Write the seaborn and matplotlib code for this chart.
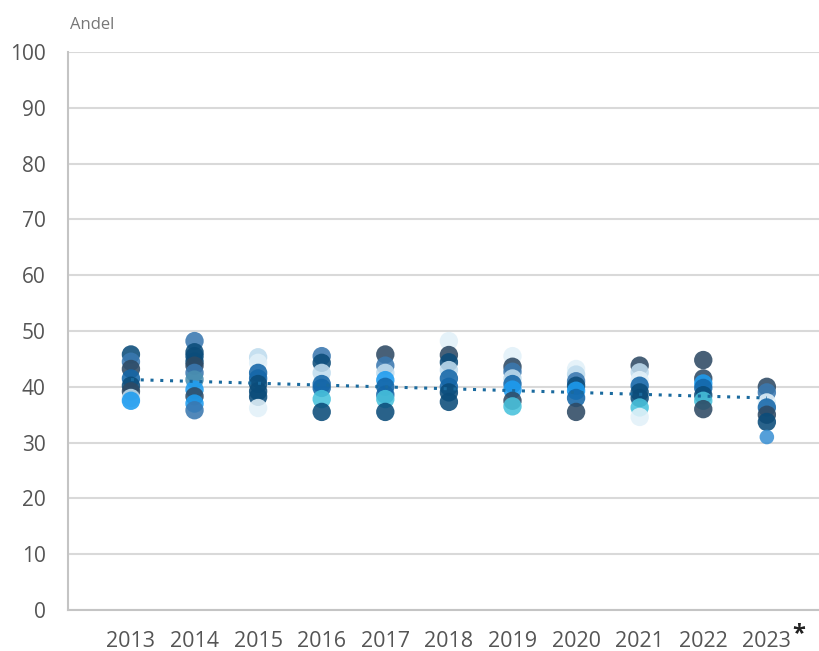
import pandas as pd
import matplotlib.pyplot as plt
import seaborn as sns

years = [2013, 2014, 2015, 2016, 2017, 2018, 2019, 2020, 2021, 2022, 2023]
year_labels = ["2013", "2014", "2015", "2016", "2017", "2018", "2019", "2020", "2021", "2022", "2023"]

values = {
    2013: [45.8, 44.5, 43.2, 41.5, 40.2, 39.2, 38.0, 37.5],
    2014: [48.2, 46.2, 45.5, 44.5, 43.8, 42.5, 41.3, 39.5, 38.3, 37.0, 35.8],
    2015: [45.3, 44.3, 42.5, 41.5, 40.5, 39.2, 38.2, 36.2],
    2016: [45.5, 44.3, 42.5, 40.5, 39.8, 37.8, 35.5],
    2017: [45.8, 43.8, 42.5, 41.2, 40.0, 38.6, 37.8, 35.5],
    2018: [48.2, 45.7, 44.4, 43.0, 41.5, 40.0, 39.0, 37.3],
    2019: [45.5, 43.6, 42.7, 41.5, 40.5, 39.5, 37.5, 36.5],
    2020: [43.2, 42.2, 41.0, 40.2, 39.3, 38.0, 35.5],
    2021: [43.8, 42.6, 41.2, 40.2, 39.0, 38.0, 36.3, 34.6],
    2022: [44.8, 41.5, 40.6, 39.8, 38.5, 37.5, 36.0],
    2023: [40.0, 39.0, 37.2, 36.3, 35.0, 33.7, 31.0],
}
shades = {
    2013: ["navy", "steel", "slate", "blue", "navy", "slate", "pale", "bright"],
    2014: ["steel", "navy", "navy", "navy", "slate", "steel", "teal", "bright", "slate", "bright", "steel"],
    2015: ["pale", "ice", "blue", "blue", "navy", "navy", "navy", "ice"],
    2016: ["steel", "navy", "pale", "blue", "blue", "cyan", "navy"],
    2017: ["slate", "steel", "pale", "bright", "blue", "blue", "cyan", "navy"],
    2018: ["ice", "slate", "navy", "pale", "blue", "blue", "navy", "navy"],
    2019: ["ice", "slate", "steel", "pale", "blue", "bright", "slate", "cyan"],
    2020: ["ice", "pale", "steel", "navy", "bright", "blue", "slate"],
    2021: ["slate", "pale", "ice", "blue", "navy", "navy", "cyan", "ice"],
    2022: ["slate", "slate", "bright", "blue", "navy", "cyan", "slate"],
    2023: ["slate", "steel", "ice", "blue", "slate", "navy", "mid"],
}
dot_size = {2023: ["big", "big", "big", "big", "big", "big", "small"]}

trend_years = [2013, 2023]
trend_values = [41.3, 38.0]

palette = {
    "slate": "#2e4a64", "navy": "#0b4c7a", "blue": "#1466a8", "steel": "#3a78b0",
    "bright": "#1d9cf0", "cyan": "#48c2dc", "teal": "#4a8fb0", "pale": "#bfdcee",
    "ice": "#e2f1f9", "mid": "#3d92d4",
}

rows = []
for y in years:
    sz = dot_size.get(y, ["big"] * len(values[y]))
    for v, c, s in zip(values[y], shades[y], sz):
        rows.append({"year": y, "value": v, "shade": c, "size": s})
df = pd.DataFrame(rows)

sns.set_style("white")
plt.rcParams["font.family"] = ["Open Sans", "DejaVu Sans"]

fig = plt.figure(figsize=(8.19, 6.51), dpi=100)
ax = fig.add_axes([0.083, 0.063, 0.917, 0.857])

sns.scatterplot(data=df, x="year", y="value", hue="shade", palette=palette,
                size="size", sizes={"big": 175, "small": 110},
                alpha=0.88, linewidth=0, legend=False, ax=ax, zorder=3)
sns.lineplot(x=trend_years, y=trend_values, color="#1a6a9e", linestyle=(0, (1, 2.2)),
             linewidth=2.2, ax=ax, zorder=4)

ax.set_xlim(2012.01, 2023.82)
ax.set_ylim(0, 100)
ax.set_yticks(range(0, 101, 10))
ax.set_xticks(years)
ax.set_xticklabels(year_labels, family=["Liberation Sans Narrow", "Open Sans", "DejaVu Sans"])
ax.grid(axis="y", color="#d9d9d9", linewidth=1.5)
ax.set_axisbelow(True)
for side in ["top", "right"]:
    ax.spines[side].set_visible(False)
for side in ["left", "bottom"]:
    ax.spines[side].set_color("#c4c4c4")
    ax.spines[side].set_linewidth(1.5)
ax.tick_params(axis="y", length=0, pad=16, labelsize=15, labelcolor="#555555")
ax.tick_params(axis="x", length=0, pad=15, labelsize=15.5, labelcolor="#555555")
ax.set_xlabel("")
ax.set_ylabel("")

fig.text(0.085, 0.962, "Andel", fontsize=12, color="#777777", ha="left", va="center")
ax.annotate("*", xy=(2023, 0), xytext=(18, -17), textcoords="offset points",
            fontsize=17, color="#222222", ha="left", va="center", fontweight="bold")

fig.savefig("out.png", dpi=100)
